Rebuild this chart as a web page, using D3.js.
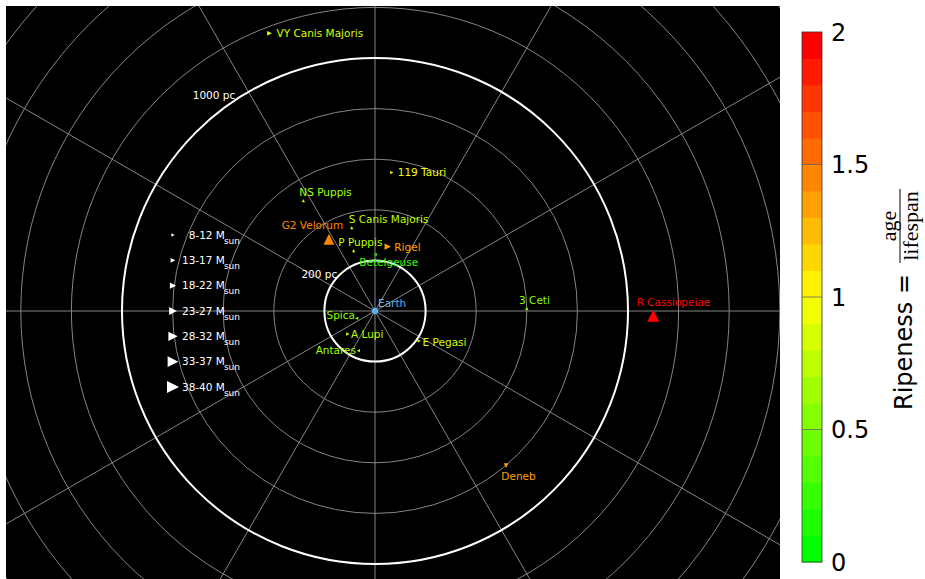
<!DOCTYPE html>
<html>
<head>
<meta charset="utf-8">
<script src="https://cdn.jsdelivr.net/npm/d3@7"></script>
<style>
  html, body { margin: 0; padding: 0; background: #ffffff; }
  svg { display: block; }
</style>
</head>
<body>
<svg id="chart" width="925" height="579"></svg>
<script>
// Massive stars around the Sun: distance (pc) and right ascension (deg)
const starNames = ["VY Canis Majoris", "119 Tauri", "NS Puppis", "S Canis Majoris", "G2 Velorum",
  "P Puppis", "Rigel", "Betelgeuse", "3 Ceti", "R Cassiopeiae", "Spica", "A Lupi", "Antares",
  "E Pegasi", "Deneb"];
const distancePc = [1174, 551, 520, 342, 337, 253, 259, 221, 600, 1100, 78, 141, 170, 211, 801];
const rightAscension = [110.8, 83.1, 123.0, 105.6, 122.7, 109.5, 78.8, 89.0, 1.0, 359.0, 201.8,
  220.1, 247.2, 325.9, 310.3];
const ripeness = [0.85, 0.92, 0.62, 0.7, 1.45, 0.72, 1.35, 0.25, 0.55, 1.95, 0.5, 0.72, 0.65,
  0.82, 1.32];
const massSun = [15, 10, 10, 10, 35, 10, 20, 10, 10, 39, 10, 10, 10, 10, 15];
const markerDir = [">", ">", "^", "^", "^", "^", ">", "v", "^", "^", "<", ">", "<", ">", "v"];

// Mass classes shown in the legend
const massClassLabels = ["8-12", "13-17", "18-22", "23-27", "28-32", "33-37", "38-40"];
const massClassMid = [10, 15, 20, 25, 30, 35, 39];

// Distance rings and colour bar ticks
const ringPc = [200, 400, 600, 800, 1000, 1200, 1400, 1600, 1800, 2000, 2200, 2400];
const labelledRings = [200, 1000];
const colorTicks = [0, 0.5, 1, 1.5, 2];

// Label placement around each marker: [dx, dy, anchor]
const labelPlacement = [
  [7, 0, "start"], [6, 0, "start"], [-4, -8, "start"], [-3, -8.4, "start"], [14.3, -14.3, "end"],
  [-15.4, -8, "start"], [6.6, 0.6, "start"], [-16.7, 7.3, "start"], [-7.7, -8.3, "start"],
  [-16.6, -14, "start"], [-1.7, -3.3, "end"], [3.3, 0, "start"], [-2.3, -0.7, "end"],
  [3.4, 1, "start"], [-4.7, 11, "start"]
];

const svg = d3.select("#chart");
const plot = { x0: 6, y0: 6, x1: 780, y1: 579 };
const cx = 375, cy = 311;
const sans = "'DejaVu Sans', sans-serif";

const r = d3.scaleLinear().domain([0, 1000]).range([0, 253]);
const px = (pc, deg) => cx + r(pc) * Math.cos(deg * Math.PI / 180);
const py = (pc, deg) => cy - r(pc) * Math.sin(deg * Math.PI / 180);

// Ripeness colour map: green -> yellow -> red in 20 steps
const baseColor = d3.scaleLinear().domain([0, 1, 2]).range(["#00ff00", "#ffff00", "#ff0000"]);
const nBins = 20;
const binColors = d3.range(nBins).map(i => baseColor(2 * i / (nBins - 1)));
const ripeColor = d3.scaleQuantize().domain([0, 2]).range(binColors);

const markerSize = d3.scaleLinear().domain([10, 39]).range([3.3, 12]);

function triangle(dir, s) {
  const h = s / 2;
  const pts = {
    "^": [[0, -h], [h, h], [-h, h]],
    "v": [[0, h], [h, -h], [-h, -h]],
    ">": [[h, 0], [-h, -h], [-h, h]],
    "<": [[-h, 0], [h, -h], [h, h]]
  }[dir];
  return "M" + pts.map(p => p.join(",")).join("L") + "Z";
}

// Plot background and clip
svg.append("defs").append("clipPath").attr("id", "plotClip")
  .append("rect").attr("x", plot.x0).attr("y", plot.y0)
  .attr("width", plot.x1 - plot.x0).attr("height", plot.y1 - plot.y0);

svg.append("rect").attr("x", plot.x0).attr("y", plot.y0)
  .attr("width", plot.x1 - plot.x0).attr("height", plot.y1 - plot.y0)
  .attr("fill", "#000000");

const grid = svg.append("g").attr("clip-path", "url(#plotClip)");

// Radial spokes every 30 degrees
grid.selectAll("line.spoke").data(d3.range(0, 360, 30)).join("line")
  .attr("class", "spoke")
  .attr("x1", cx).attr("y1", cy)
  .attr("x2", d => px(3000, d)).attr("y2", d => py(3000, d))
  .attr("stroke", "#858585").attr("stroke-width", 1);

// Distance rings
grid.selectAll("circle.ring").data(ringPc.filter(d => !labelledRings.includes(d))).join("circle")
  .attr("class", "ring")
  .attr("cx", cx).attr("cy", cy).attr("r", d => r(d))
  .attr("fill", "none").attr("stroke", "#858585").attr("stroke-width", 1);

grid.selectAll("circle.major").data(labelledRings).join("circle")
  .attr("class", "major")
  .attr("cx", cx).attr("cy", cy).attr("r", d => r(d))
  .attr("fill", "none").attr("stroke", "#ffffff").attr("stroke-width", 2);

// Ring labels
const ringLabelAngle = { 200: 135, 1000: 123 };
const ringLabelLift = { 200: 3, 1000: 0 };
svg.selectAll("text.ringLabel").data(labelledRings).join("text")
  .attr("class", "ringLabel")
  .attr("x", d => px(d, ringLabelAngle[d]) - 2)
  .attr("y", d => py(d, ringLabelAngle[d]) + ringLabelLift[d])
  .attr("text-anchor", "end")
  .attr("font-family", sans).attr("font-size", 10.5).attr("fill", "#ffffff")
  .text(d => d + " pc");

// Stars
const stars = starNames.map((name, i) => ({
  name, pc: distancePc[i], ra: rightAscension[i], ripe: ripeness[i],
  mass: massSun[i], dir: markerDir[i], place: labelPlacement[i]
}));

const starG = svg.append("g").attr("clip-path", "url(#plotClip)");
starG.selectAll("path.star").data(stars).join("path")
  .attr("class", "star")
  .attr("transform", d => `translate(${px(d.pc, d.ra)},${py(d.pc, d.ra)})`)
  .attr("d", d => triangle(d.dir, markerSize(d.mass)))
  .attr("fill", d => ripeColor(d.ripe));

starG.selectAll("text.starLabel").data(stars).join("text")
  .attr("class", "starLabel")
  .attr("x", d => px(d.pc, d.ra) + d.place[0])
  .attr("y", d => py(d.pc, d.ra) + d.place[1] + 3.8)
  .attr("text-anchor", d => d.place[2])
  .attr("font-family", sans).attr("font-size", 10.5)
  .attr("fill", d => ripeColor(d.ripe))
  .text(d => d.name);

// Earth at the centre
const earthColor = "#5ab4ea";
starG.append("circle").attr("cx", cx).attr("cy", cy).attr("r", 3.2).attr("fill", earthColor);
starG.append("text").attr("x", cx + 3).attr("y", cy - 7.7 + 3.8)
  .attr("font-family", sans).attr("font-size", 10.5).attr("fill", earthColor).text("Earth");

// Mass legend
const legend = svg.append("g");
const legendY = d3.scaleLinear().domain([0, massClassLabels.length - 1]).range([235, 387]);
massClassLabels.forEach((lab, i) => {
  const y = legendY(i);
  legend.append("path")
    .attr("transform", `translate(173,${y})`)
    .attr("d", triangle(">", markerSize(massClassMid[i])))
    .attr("fill", "#ffffff");
  const t = legend.append("text").attr("x", 240).attr("y", y + 3.5)
    .attr("text-anchor", "end").attr("font-family", sans).attr("font-size", 10.5)
    .attr("fill", "#ffffff");
  t.append("tspan").text(lab + " M");
  t.append("tspan").attr("dx", -1).attr("dy", 5).attr("font-size", 9).text("sun");
});

// Colour bar
const cb = { x: 802, w: 20 };
const cbY = d3.scaleLinear().domain([0, 2]).range([562, 32]);
const cbG = svg.append("g");
cbG.selectAll("rect.bin").data(d3.range(nBins)).join("rect")
  .attr("class", "bin")
  .attr("x", cb.x).attr("width", cb.w)
  .attr("y", i => cbY(2 * (i + 1) / nBins))
  .attr("height", i => cbY(2 * i / nBins) - cbY(2 * (i + 1) / nBins) + 0.5)
  .attr("fill", i => binColors[i]);
cbG.selectAll("line.tick").data(colorTicks.filter(d => d > 0 && d < 2)).join("line")
  .attr("class", "tick")
  .attr("x1", cb.x).attr("x2", cb.x + cb.w)
  .attr("y1", d => cbY(d)).attr("y2", d => cbY(d))
  .attr("stroke", "#666666").attr("stroke-width", 0.8);
cbG.append("rect").attr("x", cb.x).attr("y", cbY(2)).attr("width", cb.w)
  .attr("height", cbY(0) - cbY(2)).attr("fill", "none")
  .attr("stroke", "#333333").attr("stroke-width", 0.8);
cbG.selectAll("text.tickLabel").data(colorTicks).join("text")
  .attr("class", "tickLabel")
  .attr("x", 831).attr("y", d => cbY(d) + 8.7)
  .attr("font-family", sans).attr("font-size", 24).attr("fill", "#000000")
  .text(d => d3.format("~g")(d));

// Colour bar title: Ripeness = age / lifespan
const title = svg.append("g").attr("transform", "translate(912,410) rotate(-90)");
title.append("text").attr("x", 0).attr("y", 0)
  .attr("font-family", sans).attr("font-size", 24).attr("fill", "#000000")
  .text("Ripeness =");
const fracX = 410 - 226;
const serif = "'Liberation Serif', 'Times New Roman', serif";
title.append("text").attr("x", fracX).attr("y", -16.5).attr("text-anchor", "middle")
  .attr("font-family", serif).attr("font-size", 22).attr("fill", "#000000").text("age");
title.append("text").attr("x", fracX).attr("y", 5.5).attr("text-anchor", "middle")
  .attr("font-family", serif).attr("font-size", 22).attr("fill", "#000000").text("lifespan");
title.append("line").attr("x1", fracX - 37).attr("x2", fracX + 37)
  .attr("y1", -12).attr("y2", -12).attr("stroke", "#000000").attr("stroke-width", 1);
</script>
</body>
</html>
